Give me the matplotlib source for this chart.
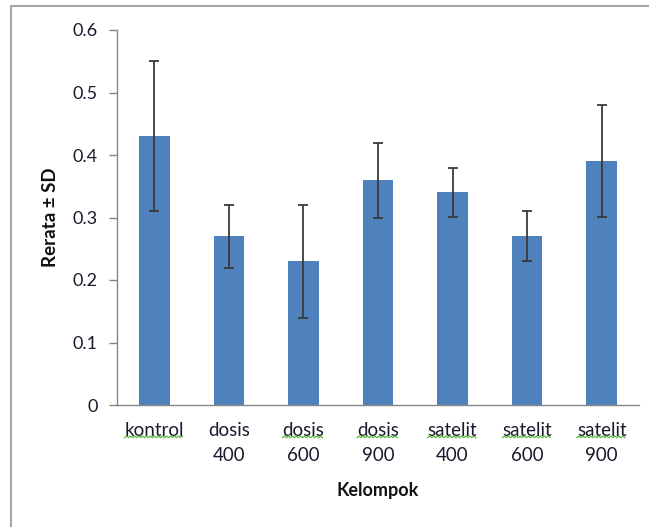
import matplotlib
matplotlib.use("Agg")
import matplotlib.pyplot as plt
from matplotlib.patches import Rectangle
from matplotlib.lines import Line2D
import numpy as np

categories = ["kontrol", "dosis\n400", "dosis\n600", "dosis\n900", "satelit\n400", "satelit\n600", "satelit\n900"]
means = [0.43, 0.27, 0.23, 0.36, 0.34, 0.27, 0.39]
sds = [0.12, 0.05, 0.09, 0.06, 0.04, 0.04, 0.09]
yticks = [0, 0.1, 0.2, 0.3, 0.4, 0.5, 0.6]
ytick_labels = ["0", "0.1", "0.2", "0.3", "0.4", "0.5", "0.6"]
underlined = [True, False, True, True, True, True, True]

plt.rcParams['font.family'] = ['Lato', 'DejaVu Sans']
W, H = 649, 527
XFS = 13.5
fig = plt.figure(figsize=(W / 100, H / 100), dpi=100)
fig.patch.set_facecolor('white')

# outer frame (top & left visible)
fig.add_artist(Rectangle((11 / W, -0.1), 1.2, (H - 6) / H + 0.1, transform=fig.transFigure,
                         fill=False, edgecolor='#a6a6a6', linewidth=1.5))

ax = fig.add_axes([117 / W, 1 - 405 / H, (639 - 117) / W, (405 - 30) / H])
x = np.arange(len(categories))
ax.bar(x, means, width=0.41, color='#4F81BD', zorder=2)
ax.errorbar(x, means, yerr=sds, fmt='none', ecolor='#3a3a3a', elinewidth=1.3,
            capsize=3.6, capthick=1.3, zorder=3)

ax.set_xlim(-0.5, len(categories) - 0.5)
ax.set_ylim(0, 0.6)
ax.set_yticks(yticks)
ax.set_yticklabels(ytick_labels)
ax.set_xticks(x)
ax.set_xticklabels(categories, linespacing=1.6)

for s in ['top', 'right']:
    ax.spines[s].set_visible(False)
for s in ['left', 'bottom']:
    ax.spines[s].set_color('#868686')
    ax.spines[s].set_linewidth(1.0)

ax.tick_params(axis='y', length=6, width=1.0, color='#868686', labelsize=13,
               labelcolor='#1a1a2e', pad=8)
ax.tick_params(axis='x', length=0, labelsize=XFS, labelcolor='#1a1a2e', pad=12)

ax.set_ylabel("Rerata ± SD", fontsize=13.5, fontweight='bold', labelpad=10, color='#111111')
ax.set_xlabel("Kelompok", fontsize=13, fontweight='bold', labelpad=13, color='#111111')

# spell-check style wavy underlines under the first word of tick labels
fig.canvas.draw()
renderer = fig.canvas.get_renderer()
for lbl, flag in zip(ax.get_xticklabels(), underlined):
    if not flag:
        continue
    word = lbl.get_text().split("\n")[0]
    t = fig.text(0, 0, word, fontsize=XFS, family=['Lato', 'DejaVu Sans'])
    wb = t.get_window_extent(renderer)
    t.remove()
    full = lbl.get_window_extent(renderer)
    cx = (full.x0 + full.x1) / 2
    x0 = cx - wb.width / 2
    ybase = full.y1 - wb.height + 1
    xs = np.arange(x0, x0 + wb.width + 0.1, 2.0)
    ys = ybase + np.where(np.arange(len(xs)) % 2 == 0, 0.0, 1.6)
    fig.add_artist(Line2D(xs / W, ys / H, transform=fig.transFigure,
                          color='#5cb83a', linewidth=0.9))

fig.savefig("out.png", dpi=100, facecolor='white')
